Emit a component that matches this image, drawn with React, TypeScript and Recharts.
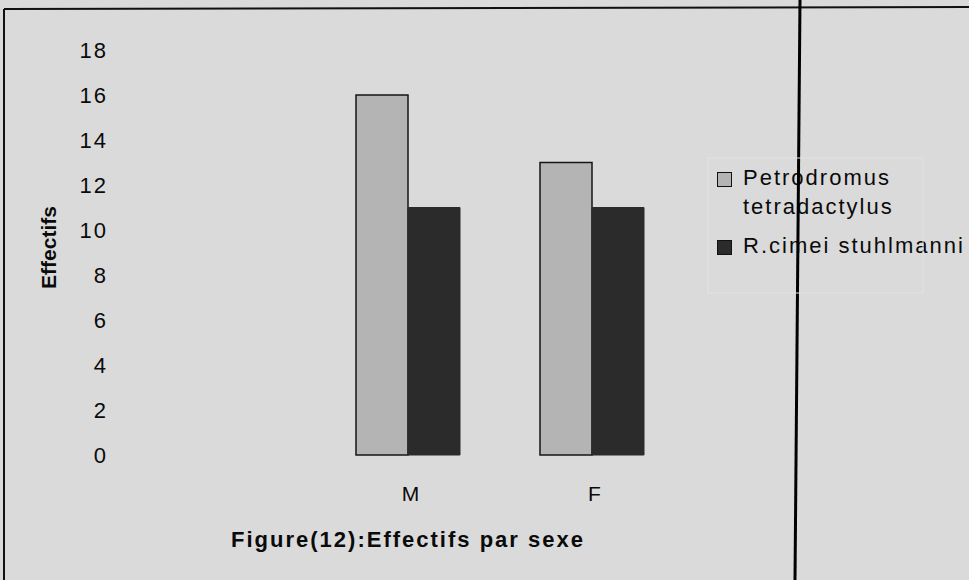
import React from 'react';
import { BarChart, Bar, XAxis, YAxis } from 'recharts';

// first category is blank in the original sheet
const categories = ['', 'M', 'F'];
const petrodromus = [null, 16, 13];
const rcimei = [null, 11, 11];
const yTicks = [0, 2, 4, 6, 8, 10, 12, 14, 16, 18];

const seriesNames = ['Petrodromus tetradactylus', 'R.cimei stuhlmanni'];
const seriesColors = ['#b4b4b4', '#2b2b2b'];

const data = categories.map((name, i) => ({
  name,
  petro: petrodromus[i],
  rcimei: rcimei[i],
}));

const FONT = '"Liberation Sans", Arial, sans-serif';
const BG = '#dadada';

function LegendBox() {
  // the first name wraps onto two lines in the original
  const items = [
    { lines: seriesNames[0].split(' '), fill: seriesColors[0] },
    { lines: [seriesNames[1]], fill: seriesColors[1] },
  ];
  return (
    <div style={{ position: 'absolute', left: 717, top: 163, fontFamily: FONT, fontSize: 22, letterSpacing: 2, color: '#0a0a0a', lineHeight: '29px' }}>
      {items.map((it, i) => (
        <div key={i} style={{ display: 'flex', alignItems: 'flex-start', marginBottom: 10 }}>
          <div style={{ width: 13, height: 13, marginTop: 9, marginRight: 11, background: it.fill, border: '1.5px solid #111', flexShrink: 0 }} />
          <div>
            {it.lines.map((l, j) => (
              <div key={j} style={{ whiteSpace: 'nowrap' }}>{l}</div>
            ))}
          </div>
        </div>
      ))}
    </div>
  );
}

function YLabel(props: any) {
  const vb = props.viewBox || { x: 0, y: 0, width: 0, height: 0 };
  const cx = vb.x + 48;
  const cy = vb.y + vb.height / 2 - 5;
  return (
    <text x={cx} y={cy} transform={`rotate(-90, ${cx}, ${cy})`} textAnchor="middle" dominantBaseline="central"
      style={{ fontFamily: FONT, fontSize: 21, fontWeight: 700, fill: '#0a0a0a' }}>
      Effectifs
    </text>
  );
}

export default function App() {
  return (
    <div style={{ position: 'absolute', left: 0, top: 0, width: 969, height: 580, background: BG, overflow: 'hidden' }}>
      <BarChart width={969} height={580} data={data} margin={{ top: 50, right: 285, bottom: 25, left: 0 }} barGap={0} barSize={52}>
        <XAxis dataKey="name" height={100} axisLine={false} tickLine={false} tickSize={0} tickMargin={31}
          tick={{ fontFamily: FONT, fontSize: 21, fill: '#0a0a0a', letterSpacing: 1, dx: 3 }}
          label={{ value: 'Figure(12):Effectifs par sexe', position: 'insideBottom', offset: 8,
            style: { fontFamily: FONT, fontSize: 22, fontWeight: 700, fill: '#0a0a0a', letterSpacing: 2 } }} />
        <YAxis width={132} domain={[0, 18]} ticks={yTicks} interval={0} axisLine={false} tickLine={false}
          tickSize={0} tickMargin={24}
          tick={{ fontFamily: FONT, fontSize: 22, fill: '#0a0a0a', letterSpacing: 2 }}
          label={<YLabel />} />
        <Bar dataKey="petro" name={seriesNames[0]} fill={seriesColors[0]} stroke="#151515" strokeWidth={1.5} isAnimationActive={false} />
        <Bar dataKey="rcimei" name={seriesNames[1]} fill={seriesColors[1]} stroke={seriesColors[1]} strokeWidth={1} isAnimationActive={false} />
      </BarChart>
      <LegendBox />
      <svg width={969} height={580} style={{ position: 'absolute', left: 0, top: 0, pointerEvents: 'none' }}>
        <line x1={4} y1={9} x2={969} y2={7} stroke="#111" strokeWidth={2} />
        <line x1={4} y1={9} x2={4} y2={580} stroke="#111" strokeWidth={2} />
        <line x1={800} y1={0} x2={795} y2={580} stroke="#000" strokeWidth={3} />
        <rect x={708} y={158} width={215} height={135} fill="none" stroke="#e2e2e2" strokeWidth={1} />
      </svg>
    </div>
  );
}
